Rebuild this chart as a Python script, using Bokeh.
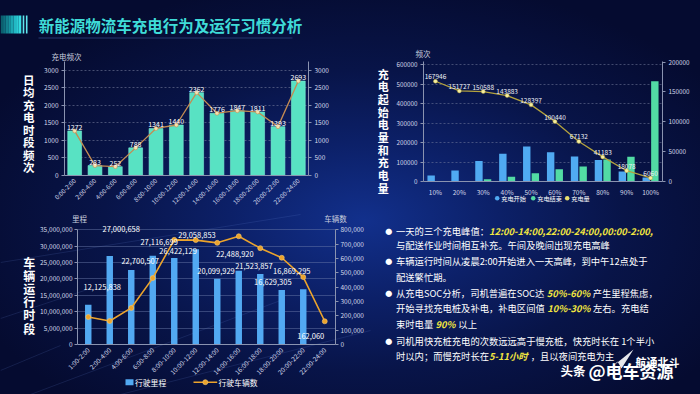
import math
from bokeh.plotting import figure
from bokeh.models import (Range1d, LinearAxis, FactorRange, ColumnDataSource,
                          NumeralTickFormatter, SingleIntervalTicker, FixedTicker)
from bokeh.embed import file_html
from bokeh.resources import INLINE
from bokeh.core.properties import value
from bokeh.transform import dodge

FONT = "Noto Sans CJK SC"
WHITE = "#ffffff"
TICK_C = "#d4d9ea"
AXIS_C = "#8a93b0"
YELLOW = "#f2e640"
MINT = "#58e2c3"
BLUE = "#50aaf2"
GREEN = "#52dba4"
OLIVE = "#b3a23e"
ORANGE = "#eca42c"

# ---------------- data ----------------
charge_slots = ["0:00-2:00", "2:00-4:00", "4:00-6:00", "6:00-8:00", "8:00-10:00", "10:00-12:00",
                "12:00-14:00", "14:00-16:00", "16:00-18:00", "18:00-20:00", "20:00-22:00", "22:00-24:00"]
charge_freq = [1272, 283, 252, 788, 1341, 1440, 2362, 1776, 1847, 1811, 1393, 2693]

soc_levels = ["10%", "20%", "30%", "40%", "50%", "60%", "70%", "80%", "90%", "100%"]
soc_start = [31000, 56700, 105000, 142700, 180500, 151000, 129000, 110000, 51600, 20600]
soc_end = [0, 3000, 12000, 24000, 43000, 63600, 77000, 113500, 127000, 516000]
charge_amount = [167946, 151727, 150588, 143883, 128397, 100440, 67132, 41183, 18078, 6060]
soc_series = ["充电开始", "充电结束", "充电量"]

run_slots = ["1:00-2:00", "2:00-4:00", "4:00-6:00", "6:00-8:00", "8:00-10:00", "10:00-12:00",
             "12:00-14:00", "14:00-16:00", "16:00-18:00", "18:00-20:00", "20:00-22:00", "22:00-24:00"]
mileage = [12125838, 27000658, 22700507, 27116699, 26422129, 29058853,
           20099929, 22488920, 21523857, 16629305, 16869295, 162060]
vehicles = [192000, 164000, 255000, 463000, 730000, 728000,
            709000, 755000, 672000, 605000, 470000, 162000]
run_series = ["行驶里程", "行驶车辆数"]

# label lift above bar tops (px) for the mileage chart, as drawn in the original
bar_label_dy = [18, 27, 9, 14, 7, 14, 8, 17, 8, 8, 18, 8]

# ---------------- helpers ----------------
def pos(left, top):
    return {"position": "absolute", "left": f"{left}px", "top": f"{top}px"}


def txt(p, x, y, s, size, color=WHITE, style="normal", align="left", baseline="middle"):
    p.text(x=[x], y=[y], text=[s], text_font=value(FONT), text_font_size=size,
           text_color=color, text_font_style=style, text_align=align, text_baseline=baseline)


def est_w(s, fs, italic=False):
    w = 0.0
    for c in s:
        if ord(c) >= 0x2E80:
            w += 1.0
        elif c.isdigit():
            w += 0.6 if italic else 0.56
        elif c in ":,.;":
            w += 0.27
        elif c == "-":
            w += 0.36
        elif c == "%":
            w += 0.92 if italic else 0.86
        elif c == " ":
            w += 0.26
        elif c.isupper():
            w += 0.66
        else:
            w += 0.5
    return w * fs


def style_axis(ax, size="6.5px"):
    ax.major_label_text_font = FONT
    ax.major_label_text_font_size = size
    ax.major_label_text_color = TICK_C
    ax.axis_line_color = AXIS_C
    ax.major_tick_line_color = AXIS_C
    ax.minor_tick_line_color = None
    ax.major_tick_out = 3
    ax.major_tick_in = 0
    ax.major_label_standoff = 2


def base_chart(left, top, w, h, x_range, yr, bl, br, bt, bb, axes=True):
    extra = {} if axes else {"x_axis_location": None, "y_axis_location": None}
    p = figure(width=w, height=h, x_range=x_range, y_range=yr,
               output_backend="svg", toolbar_location=None, styles=pos(left, top),
               min_border_left=bl, min_border_right=br, min_border_top=bt, min_border_bottom=bb,
               **extra)
    p.outline_line_color = None
    p.background_fill_alpha = 0
    p.border_fill_alpha = 0
    if axes:
        p.xgrid.visible = False
    else:
        p.grid.visible = False
    return p

# ---------------- background canvas (titles, notes, legends) ----------------
bg = figure(width=700, height=394, x_range=Range1d(0, 700), y_range=Range1d(394, 0),
            x_axis_location=None, y_axis_location=None, output_backend="svg",
            toolbar_location=None, min_border=0, styles=pos(0, 0))
bg.outline_line_color = None
bg.background_fill_alpha = 0
bg.border_fill_alpha = 0
bg.grid.visible = False

# faint decorative light streaks of the backdrop
bg.segment(x0=[0, 0, 30, 120, 0], y0=[318, 262, 394, 394, 370],
           x1=[90, 300, 280, 370, 60], y1=[288, 214, 300, 330, 345],
           line_color="#6a86d8", line_alpha=0.16, line_width=1)

grad = ["#0b5f6e", "#0e6f7e", "#12818f", "#1793a0", "#1ca6b2", "#22b9c4", "#2acbd4", "#34dde2"]
bg.quad(left=[i * 2.6 for i in range(8)], right=[(i + 1) * 2.6 for i in range(8)],
        top=[15] * 8, bottom=[33] * 8, fill_color=grad, line_color=None)
bg.quad(left=[22.2, 25.4], right=[23.8, 27.0], top=[15, 15], bottom=[33, 33],
        fill_color="#5fe6ee", line_color=None)
bg.segment(x0=[38], y0=[37.5], x1=[292], y1=[37.5], line_color="#26396e", line_width=1)
txt(bg, 38.3, 24, "新能源物流车充电行为及运行习惯分析", "15.5px", color="#3fdcd8", style="bold")


def vtitle(cx, first_y, step, s, size):
    chars = list(s)
    bg.text(x=[cx] * len(chars), y=[first_y + i * step for i in range(len(chars))], text=chars,
            text_font=value(FONT), text_font_size=size, text_color=WHITE, text_font_style="bold",
            text_align="center", text_baseline="middle")

vtitle(28.3, 79, 12.5, "日均充电时段频次", "11.5px")
vtitle(382.7, 73, 12.7, "充电起始电量和充电量", "11px")
vtitle(28.7, 262, 13.1, "车辆运行时段", "12px")

AX_T = "#c9cfdf"
txt(bg, 66, 55.7, "充电频次", "7.5px", color=AX_T, align="center")
txt(bg, 422.5, 52.7, "频次", "7.5px", color=AX_T, align="center")
txt(bg, 79, 218, "里程", "7.5px", color=AX_T, align="center")
txt(bg, 335, 218, "车辆数", "7.5px", color=AX_T, align="center")

# legend of the SOC chart
leg_x = [496.7, 532.7, 566.7]
bg.scatter(x=leg_x, y=[197.7] * 3, size=4.5, fill_color=[BLUE, GREEN, "#e8e070"], line_color=None)
bg.text(x=[v + 4 for v in leg_x], y=[197.7] * 3, text=soc_series, text_font=value(FONT),
        text_font_size="6.2px", text_color=WHITE, text_align="left", text_baseline="middle")

# legend of the running-hours chart
bg.quad(left=[125], right=[133], top=[378.7], bottom=[384.7], fill_color="#52a9f2", line_color=None)
bg.segment(x0=[193], y0=[381.7], x1=[216.7], y1=[381.7], line_color=ORANGE, line_width=1.6)
bg.scatter(x=[204.8], y=[381.7], size=5, fill_color=ORANGE, line_color="#f7c870", line_width=0.6)
bg.text(x=[134.5, 218], y=[381.7, 381.7], text=run_series, text_font=value(FONT),
        text_font_size="7.8px", text_color=WHITE, text_align="left", text_baseline="middle")

FS = 9.3
lines = [
    (230.0, True, [("一天的三个充电峰值：", False), ("12:00-14:00,22:00-24:00,00:00-2:00,", True)]),
    (244.3, False, [("与配送作业时间相互补充。午间及晚间出现充电高峰", False)]),
    (260.0, True, [("车辆运行时间从凌晨2:00开始进入一天高峰，到中午12点处于", False)]),
    (276.0, False, [("配送繁忙期。", False)]),
    (292.3, True, [("从充电SOC分析，司机普遍在SOC达 ", False), ("50%-60%", True), (" 产生里程焦虑，", False)]),
    (307.7, False, [("开始寻找充电桩及补电，补电区间值 ", False), ("10%-30%", True), (" 左右。充电结", False)]),
    (323.3, False, [("束时电量 ", False), ("90%", True), (" 以上", False)]),
    (340.0, True, [("司机用快充桩充电的次数远远高于慢充桩，快充时长在 1个半小", False)]),
    (355.0, False, [("时以内；而慢充时长在", False), ("5-11小时", True), ("，且以夜间充电为主", False)]),
]
for y, bullet, segs in lines:
    if bullet:
        txt(bg, 388.3, y, "●", "7px", align="center")
    x = 395.5
    for s, hi in segs:
        if hi:
            txt(bg, x, y, s, f"{FS}px", color=YELLOW, style="bold italic")
            x += est_w(s, FS, italic=True) + 3
        else:
            txt(bg, x, y, s, f"{FS}px")
            x += est_w(s, FS)

bg.patch(x=[612, 633, 621, 617], y=[366, 349, 368, 361], fill_color=WHITE, line_color=None,
         fill_alpha=0.9)
txt(bg, 635, 361.5, "航通北斗", "11px", style="bold")
txt(bg, 560, 370, "头条", "12.5px", style="bold")
txt(bg, 588, 370, "@电车资源", "17px", style="bold")

# ---------------- top-left: charging frequency ----------------
tl = base_chart(30, 40, 340, 190, FactorRange(factors=charge_slots), Range1d(0, 3250), 34, 62, 21, 55)
tl.extra_y_ranges = {"r": Range1d(0, 3250)}
tl.add_layout(LinearAxis(y_range_name="r"), "right")
tl.yaxis.ticker = SingleIntervalTicker(interval=500)
for ax in tl.yaxis:
    style_axis(ax)
for ax in tl.xaxis:
    style_axis(ax, "6.3px")
    ax.major_label_orientation = math.pi / 4
    ax.major_tick_line_color = None
    ax.major_label_standoff = 1
tl.ygrid.grid_line_color = "#7b83a3"
tl.ygrid.grid_line_alpha = 0.55
tl.ygrid.grid_line_dash = "2 2"
tl.vbar(x=charge_slots, top=charge_freq, width=0.68, fill_color=MINT, line_color="#7cf0d6",
        line_width=0.6)
tl.line(x=charge_slots, y=charge_freq, y_range_name="r", line_color="#c48b52", line_width=1.3)
tl.scatter(x=charge_slots, y=charge_freq, y_range_name="r", size=4, fill_color="#f3e2b0",
           line_color="#c48b52", line_width=0.6)
tl.text(x=charge_slots, y=charge_freq, text=[str(v) for v in charge_freq], y_offset=-1,
        text_font=value(FONT), text_font_size="7px", text_color=WHITE,
        text_align="center", text_baseline="bottom")

# ---------------- top-right: SOC ----------------
src_soc = ColumnDataSource(dict(x=soc_levels, start=soc_start, end=soc_end, amt=charge_amount,
                                amt_lbl=[str(v) for v in charge_amount]))
tr = base_chart(370, 40, 330, 190, FactorRange(factors=soc_levels), Range1d(0, 617000), 53, 38, 21, 49)
tr.extra_y_ranges = {"r": Range1d(0, 201000)}
tr.add_layout(LinearAxis(y_range_name="r", ticker=SingleIntervalTicker(interval=50000)), "right")
tr.yaxis[0].ticker = SingleIntervalTicker(interval=100000)
tr.yaxis.formatter = NumeralTickFormatter(format="0")
for ax in tr.yaxis:
    style_axis(ax, "6.3px")
for ax in tr.xaxis:
    style_axis(ax, "6.5px")
    ax.major_tick_line_color = None
tr.ygrid.grid_line_color = "#7b83a3"
tr.ygrid.grid_line_alpha = 0.5
tr.ygrid.grid_line_dash = "2 2"
tr.vbar(x=dodge("x", -0.18, range=tr.x_range), top="start", width=0.31, source=src_soc,
        fill_color=BLUE, line_color=None)
tr.vbar(x=dodge("x", 0.18, range=tr.x_range), top="end", width=0.31, source=src_soc,
        fill_color=GREEN, line_color=None)
tr.line(x="x", y="amt", y_range_name="r", source=src_soc, line_color=OLIVE, line_width=1.3)
tr.scatter(x="x", y="amt", y_range_name="r", source=src_soc, size=4, fill_color="#f5eea0",
           line_color=OLIVE, line_width=0.5)
tr.text(x="x", y="amt", text="amt_lbl", y_range_name="r", source=src_soc, y_offset=-2,
        text_font=value(FONT), text_font_size="6.5px", text_color="#eef0f6",
        text_align="center", text_baseline="bottom")

# ---------------- bottom-left: running hours ----------------
FRAME_TOP, TICK_TOP, ZERO = 215.0, 229.3, 344.0
stretch = (ZERO - FRAME_TOP) / (ZERO - TICK_TOP)
BL_L, BL_R, BL_W = 77, 335, 380
src_run = ColumnDataSource(dict(x=run_slots, m=mileage, v=vehicles,
                                lbl=[f"{v:,}" for v in mileage],
                                dy=[-d for d in bar_label_dy]))
bl = base_chart(0, 205, BL_W, 189, FactorRange(factors=run_slots), Range1d(0, 35000000 * stretch),
                BL_L, BL_W - BL_R, 10, 50)
bl.extra_y_ranges = {"r": Range1d(0, 800000 * stretch)}
bl.add_layout(LinearAxis(y_range_name="r", bounds=(0, 800000),
                         ticker=FixedTicker(ticks=list(range(0, 800001, 100000)))), "right")
bl.yaxis[0].ticker = FixedTicker(ticks=list(range(0, 35000001, 5000000)))
bl.yaxis[0].bounds = (0, 35000000)
bl.yaxis.formatter = NumeralTickFormatter(format="0,0")
for ax in bl.yaxis:
    style_axis(ax, "6.5px")
for ax in bl.xaxis:
    style_axis(ax, "6.5px")
    ax.major_label_orientation = math.pi / 4
    ax.major_tick_line_color = None
    ax.major_label_standoff = 1
bl.ygrid.grid_line_color = "#6f7fae"
bl.ygrid.grid_line_alpha = 0.45
bl.vbar(x="x", top="m", width=0.3, source=src_run, fill_color="#52a9f2", line_color=None)
bl.line(x="x", y="v", y_range_name="r", source=src_run, line_color=ORANGE, line_width=1.6)
bl.scatter(x="x", y="v", y_range_name="r", source=src_run, size=5, fill_color=ORANGE,
           line_color="#f7c870", line_width=0.6)

# value labels: same scales on a wider (padded) frame so the edge labels are not clipped
EXT = 20
unit = (BL_R - BL_L) / len(run_slots)
bl_lbl = base_chart(0, 205, BL_W, 189,
                    FactorRange(factors=run_slots, range_padding=2 * EXT / unit,
                                range_padding_units="absolute"),
                    Range1d(0, 35000000 * stretch), BL_L - EXT, BL_W - BL_R - EXT, 10, 50, axes=False)
bl_lbl.text(x="x", y="m", text="lbl", y_offset="dy", source=src_run,
            text_font=value(FONT), text_font_size="7.5px", text_color=WHITE,
            text_align="center", text_baseline="middle")

html = file_html([bg, tl, tr, bl, bl_lbl], INLINE, title="新能源物流车充电行为及运行习惯分析")
css = ("<style>html,body{margin:0;padding:0;overflow:hidden;"
       "background:radial-gradient(ellipse 60% 62% at 52% 56%, #12308c 0%, #0c2068 32%, "
       "#081448 62%, #050b30 100%);}</style>")
html = html.replace("</head>", css + "</head>", 1)
open("out.html", "w").write(html)
